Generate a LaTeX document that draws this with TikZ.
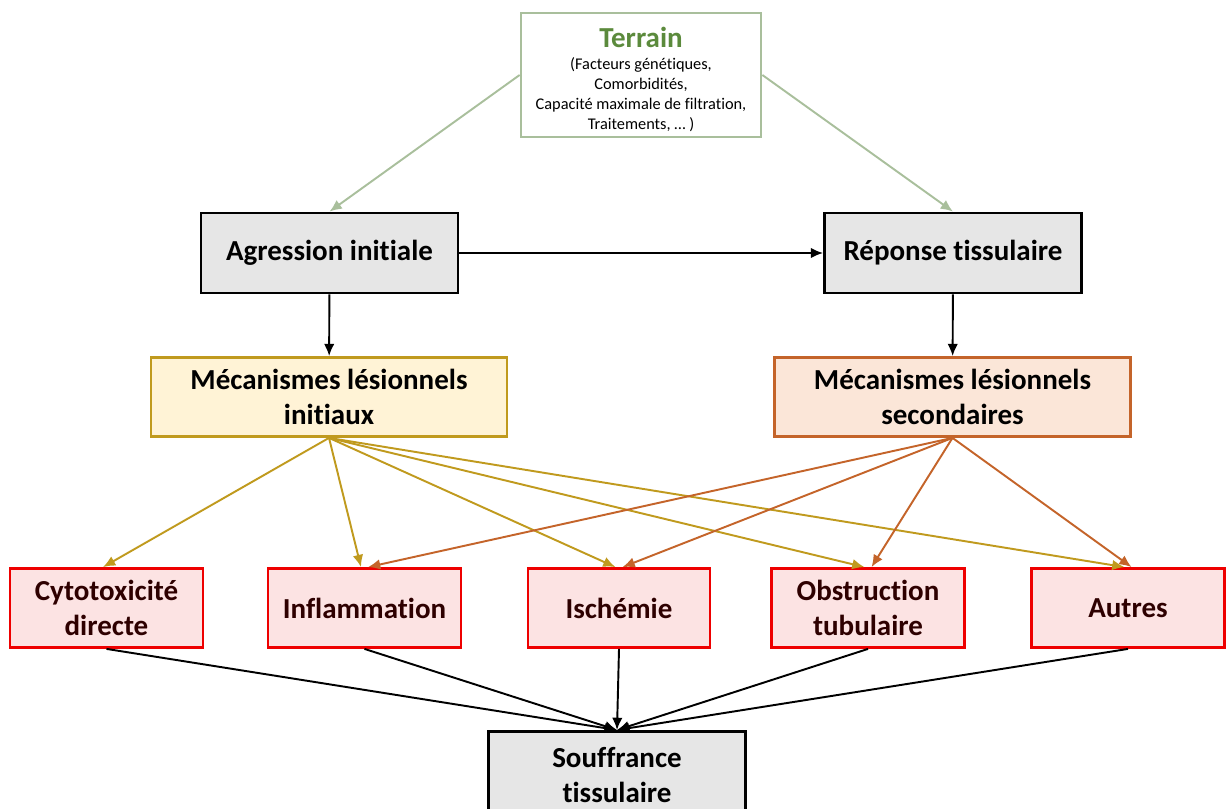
\documentclass[tikz,border=0pt]{standalone}
\usepackage{fontspec}
\setmainfont{Carlito}[Ligatures=NoCommon]
\usetikzlibrary{arrows.meta}
\definecolor{terrainvert}{HTML}{A9BF9C}
\definecolor{terraintxt}{HTML}{5B8A3C}
\definecolor{grisfond}{HTML}{E6E6E6}
\definecolor{jaunefond}{HTML}{FFF3D6}
\definecolor{jaunebord}{HTML}{C09A1E}
\definecolor{orangefond}{HTML}{FBE6D8}
\definecolor{orangebord}{HTML}{C4642A}
\definecolor{rougefond}{HTML}{FCE3E3}
\definecolor{rougebord}{HTML}{EE0000}
\definecolor{rougetxt}{HTML}{2E0000}

\begin{document}
\begin{tikzpicture}[x=0.02cm,y=-0.02cm,
    box/.style={draw,line width=1.6pt,align=center,inner sep=2pt,
      font=\fontsize{16.5}{20}\selectfont\bfseries},
    grisbox/.style={box,fill=grisfond,draw=black,minimum width=5.14cm,minimum height=1.6cm},
    initbox/.style={box,fill=jaunefond,draw=jaunebord,minimum width=7.12cm,minimum height=1.58cm},
    secbox/.style={box,fill=orangefond,draw=orangebord,minimum width=7.12cm,minimum height=1.58cm},
    lesbox/.style={box,fill=rougefond,draw=rougebord,text=rougetxt,minimum width=3.86cm,minimum height=1.58cm},
    link/.style={line width=1.1pt,-{Latex[length=7pt,width=6pt]}},
    terrainlink/.style={link,draw=terrainvert},
    initlink/.style={link,draw=jaunebord},
    seclink/.style={link,draw=orangebord}]
    \useasboundingbox (0,0) rectangle (1226,808);

    % boites
    \node[box,draw=terrainvert,fill=white,minimum width=4.8cm,minimum height=2.48cm,
          font=\fontsize{9.3}{11.4}\selectfont] (terrain) at (641,75)
        {\rule{0pt}{17pt}\textcolor{terraintxt}{\fontsize{16.5}{20}\selectfont\bfseries Terrain}\\[1pt]
         (Facteurs génétiques,\\
         Comorbidités,\\
         Capacité maximale de filtration,\\
         Traitements, … )};
    \node[grisbox] (agression) at (329.5,253) {Agression initiale};
    \node[grisbox] (reponse) at (953,253) {Réponse tissulaire};
    \node[initbox] (mecinit) at (329,397) {Mécanismes lésionnels\\initiaux};
    \node[secbox] (mecsec) at (952.5,397) {Mécanismes lésionnels\\secondaires};

    \node[lesbox] (cyto) at (106.5,608) {Cytotoxicité\\directe};
    \node[lesbox] (inflam) at (364.5,608) {Inflammation};
    \node[lesbox,minimum width=3.64cm] (ischemie) at (619,608) {Ischémie};
    \node[lesbox] (obstr) at (868,608) {Obstruction\\tubulaire};
    \node[lesbox] (autres) at (1128,608) {Autres};

    \node[grisbox,anchor=north,minimum height=1.74cm] (souffrance) at (617,730) {Souffrance\\tissulaire};

    % fleches
    \draw[terrainlink] (terrain.west) -- (agression.north);
    \draw[terrainlink] (terrain.east) -- (reponse.north);
    \draw[link] (agression) -- (reponse);
    \draw[link] (agression) -- (mecinit);
    \draw[link] (reponse) -- (mecsec);

    \foreach \cible in {cyto,inflam,ischemie,obstr,autres} {
        \draw[initlink] (mecinit.south) -- ([xshift=-2pt]\cible.north);
    }
    \foreach \cible in {inflam,ischemie,obstr,autres} {
        \draw[seclink] (mecsec.south) -- ([xshift=2pt]\cible.north);
    }
    \foreach \cible in {cyto,inflam,ischemie,obstr,autres} {
        \draw[link] (\cible.south) -- (souffrance.north);
    }
\end{tikzpicture}
\end{document}
